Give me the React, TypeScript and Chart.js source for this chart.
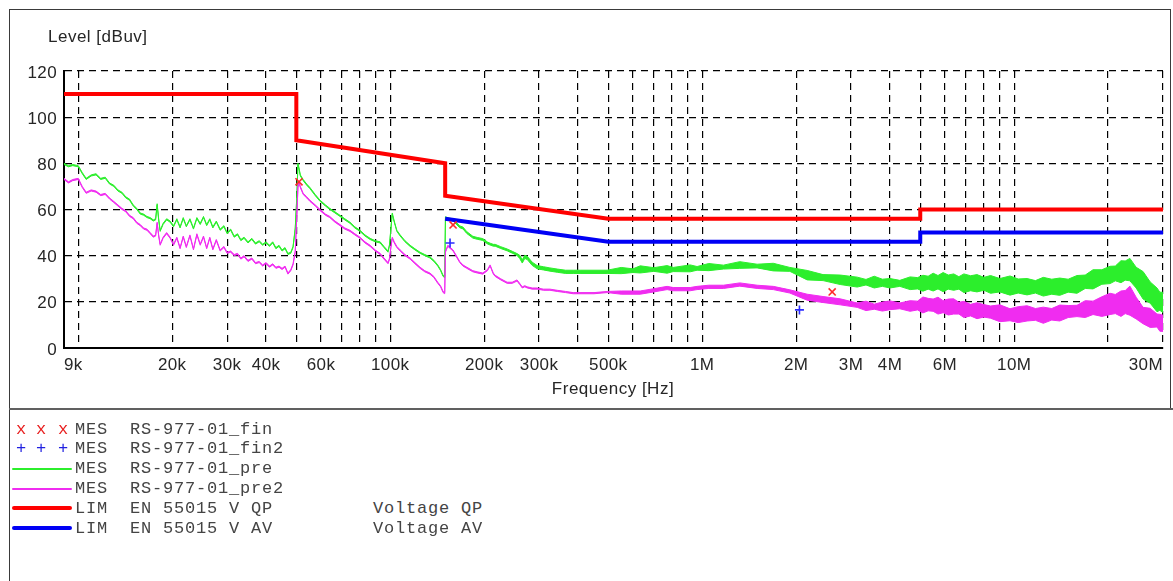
import React, { useEffect, useRef } from "react";
import { Chart, registerables } from "chart.js";

Chart.register(...registerables);

// ---------- DATA ----------
// shared frequency grid of the measured traces (kHz)
const freqKHz = [
  9, 9.3, 9.6, 10, 10.3, 10.6, 11, 11.4, 11.8, 12.2,
  12.6, 13, 13.4, 13.8, 14.2, 14.6, 15, 15.4, 15.8, 16.2,
  16.6, 17, 17.4, 17.7, 17.9, 18.1, 18.3, 18.7, 19.2, 19.7,
  20.2, 20.7, 21.2, 21.7, 22.2, 22.8, 23.4, 24, 24.6, 25.2,
  25.8, 26.4, 27, 27.7, 28.5, 29.3, 30, 30.8, 31.6, 32.4,
  33.2, 34, 35, 36, 37, 38, 39, 40, 41, 42,
  43, 44, 45, 46, 47, 48, 48.8, 49.6, 50.2, 50.6,
  51, 51.5, 52.6, 54, 55.3, 57.5, 59.6, 62, 64, 66.5,
  69, 71.5, 74.3, 77, 80, 83, 86.2, 89.5, 92.8, 95.5,
  98.4, 99.5, 100.5, 101.5, 103, 105, 107.6, 111.5, 115.8, 120,
  124.6, 129, 134, 138, 142, 145, 147.7, 149.5, 150.3, 153,
  159, 167, 171, 176, 184, 190, 198, 205, 209, 214,
  217, 226, 237, 246, 255, 260, 265, 270, 275, 285,
  296, 310, 325, 343, 365, 386, 406, 450, 496, 550,
  600, 633, 700, 772, 807, 915, 963, 1050, 1170, 1320,
  1500, 1690, 1910, 2170, 2440, 2770,
  3140, 3350, 3560, 3780, 4000, 4300, 4640, 4900, 5100, 5300,
  5500, 5700, 5920, 6150, 6400, 6650, 6900, 7250, 7600, 8000,
  8400, 9000, 9700, 10300, 11000, 11700, 12400, 13200, 14000, 14900,
  15900, 16900, 17900, 19100, 20300, 21100, 22000, 22700, 23500, 24600,
  25900, 27300, 28700, 29300, 30000,
];

// MES RS-977-01_pre (green) : upper / lower edge of the trace
const preHi = [
  80, 79, 79.5, 79, 76, 73.5, 75, 75.5, 73.5, 74,
  71.5, 70.5, 68.5, 67.5, 65.5, 64.5, 62, 60.5, 58.5, 58,
  57, 56.5, 55.5, 56, 62.5, 56, 51, 54, 56, 55,
  53, 56, 52.5, 56.5, 53, 56, 52, 56.5, 54, 57,
  53.5, 56, 52.5, 55, 51.5, 53, 50, 51.5, 48.5, 49.5,
  47, 48, 46, 47.5, 45.5, 46.5, 45, 46, 44.5, 46,
  43.5, 44.5, 42.5, 43.5, 41, 41.5, 44, 52, 66, 80,
  78, 75, 73, 71, 69.5, 66.5, 64, 62, 60.5, 59,
  57.5, 56, 54.5, 52.5, 51, 49, 47.5, 46.5, 46, 44,
  42, 45, 52, 58.5, 55, 51, 49, 46.5, 44.5, 43,
  41.5, 40.5, 39.5, 38, 36, 34, 31.5, 31, 56.9, 56.4,
  55.9, 52.9, 52.4, 50.4, 48.4, 47.9, 47.4, 45.9, 45.4, 44.9,
  44.9, 43.9, 42.9, 41.9, 40.9, 40.2, 38.2, 40.2, 39.7, 37.2,
  35.7, 35.2, 34.7, 34.2, 33.7, 33.7, 33.7, 33.7, 33.7, 34.9,
  34.3, 35.6, 34.8, 35.7, 34.9, 36.0, 35.3, 36.6, 35.9, 37.4,
  36.3, 36.7, 34.9, 33.6, 31.8, 31.6,
  30.7, 29.7, 31.1, 29.8, 30.1, 29.3, 30.8, 30.5, 31.5, 31.1,
  32.4, 31.4, 32.7, 31.6, 32.1, 30.9, 32.1, 31.3, 31.8, 30.6,
  31.4, 30.1, 31.2, 29.9, 30.1, 29.2, 30.6, 29.8, 30.3, 29.8,
  31.4, 31.6, 33.9, 33.9, 35.4, 35.5, 37.8, 37.7, 38.8, 35.0,
  33.1, 28.6, 26.0, 24.2, 24.1,
];
const preLo = [
  79.5, 78.5, 79, 78.5, 75.5, 73, 74.5, 75, 73, 73.5,
  71, 70, 68, 67, 65, 64, 61.5, 60, 58, 57.5,
  56.5, 56, 55, 55.5, 62, 55.5, 50.5, 53.5, 55.5, 54.5,
  52.5, 55.5, 52, 56, 52.5, 55.5, 51.5, 56, 53.5, 56.5,
  53, 55.5, 52, 54.5, 51, 52.5, 49.5, 51, 48, 49,
  46.5, 47.5, 45.5, 47, 45, 46, 44.5, 45.5, 44, 45.5,
  43, 44, 42, 43, 40.5, 41, 43.5, 51.5, 65.5, 79.5,
  77.5, 74.5, 72.5, 70.5, 69, 66, 63.5, 61.5, 60, 58.5,
  57, 55.5, 54, 52, 50.5, 48.5, 47, 46, 45.5, 43.5,
  41.5, 44.5, 51.5, 58, 54.5, 50.5, 48.5, 46, 44, 42.5,
  41, 40, 39, 37.5, 35.5, 33.5, 31, 30.5, 56.1, 55.6,
  55.1, 52.1, 51.6, 49.6, 47.6, 47.1, 46.6, 45.1, 44.6, 44.1,
  44.1, 43.1, 42.1, 41.1, 40.1, 38.8, 36.8, 38.8, 38.3, 35.8,
  34.3, 33.8, 33.3, 32.8, 32.3, 32.3, 32.3, 32.3, 32.3, 32.2,
  32.7, 32.5, 33.2, 32.4, 33.1, 33.0, 33.7, 33.5, 34.2, 34.5,
  34.7, 33.4, 33.2, 29.5, 29.2, 27.5,
  26.4, 27.3, 26.0, 26.7, 26.0, 26.7, 25.3, 25.6, 24.6, 25.5,
  24.7, 25.6, 24.4, 25.5, 25.0, 25.5, 24.0, 24.8, 24.3, 25.0,
  23.7, 24.3, 22.9, 23.8, 23.0, 23.8, 22.5, 23.3, 22.8, 24.2,
  23.7, 25.8, 25.6, 27.6, 27.9, 29.1, 28.3, 29.4, 29.1, 26.0,
  21.2, 19.4, 15.7, 16.3, 15.4,
];

// MES RS-977-01_pre2 (magenta) : upper / lower edge of the trace
const pre2Hi = [
  73.5, 72, 73, 73.5, 70, 67.5, 68.5, 68, 66.5, 67,
  65, 63.5, 62, 60.5, 59.5, 57.5, 56.5, 54.5, 53.5, 52,
  51.5, 50, 48.5, 49, 54.5, 49, 45, 48, 50, 48,
  45, 48, 43.5, 48.5, 44, 49, 43, 49.5, 45, 48.5,
  43.5, 48, 43, 47, 42.5, 44, 41.5, 42, 40.5, 41,
  39, 40, 38, 39, 37, 37.5, 36, 37, 35.5, 36.5,
  35, 35.5, 34.5, 35.5, 32.5, 34, 36.5, 42, 58, 70,
  72, 70, 67, 65.5, 64, 62, 60, 58, 57, 55,
  53.5, 52, 51, 49.5, 48, 46, 44.5, 42.5, 41, 39,
  37, 39, 44, 48, 46, 44, 42.5, 40.5, 39, 37,
  35, 33.5, 32.5, 31, 28.5, 27, 24.5, 24, 42, 44.5,
  42.5, 37.5, 36, 35, 33.5, 33, 32.5, 34, 36, 32.5,
  31.5, 30, 28.5, 28.5, 29.5, 28, 26.5, 27, 26.5, 26,
  26, 25.5, 25.5, 25, 24.5, 24, 24, 24, 24.5, 24.7,
  24.7, 24.7, 25.7, 26.7, 26.2, 26.2, 26.7, 27.2, 27.2, 28.2,
  27.2, 26.7, 25.2, 23.3, 22.3, 21.3,
  19.5, 20.3, 19.0, 19.9, 20.4, 19.5, 20.5, 20.3, 22.1, 21.5,
  21.2, 22.0, 20.5, 21.2, 21.3, 19.8, 20.2, 18.9, 19.6, 18.8,
  18.2, 18.7, 17.0, 17.9, 18.3, 17.1, 17.7, 17.1, 18.6, 18.4,
  18.5, 20.5, 20.3, 22.2, 23.7, 23.2, 24.7, 24.9, 26.8, 22.0,
  17.6, 17.2, 14.7, 14.6, 14.2,
];
const pre2Lo = [
  73, 71.5, 72.5, 73, 69.5, 67, 68, 67.5, 66, 66.5,
  64.5, 63, 61.5, 60, 59, 57, 56, 54, 53, 51.5,
  51, 49.5, 48, 48.5, 54, 48.5, 44.5, 47.5, 49.5, 47.5,
  44.5, 47.5, 43, 48, 43.5, 48.5, 42.5, 49, 44.5, 48,
  43, 47.5, 42.5, 46.5, 42, 43.5, 41, 41.5, 40, 40.5,
  38.5, 39.5, 37.5, 38.5, 36.5, 37, 35.5, 36.5, 35, 36,
  34.5, 35, 34, 35, 32, 33.5, 36, 41.5, 57.5, 69.5,
  71.5, 69.5, 66.5, 65, 63.5, 61.5, 59.5, 57.5, 56.5, 54.5,
  53, 51.5, 50.5, 49, 47.5, 45.5, 44, 42, 40.5, 38.5,
  36.5, 38.5, 43.5, 47.5, 45.5, 43.5, 42, 40, 38.5, 36.5,
  34.5, 33, 32, 30.5, 28, 26.5, 24, 23.5, 41.5, 44,
  42, 37, 35.5, 34.5, 33, 32.5, 32, 33.5, 35.5, 32,
  31, 29.5, 28, 28, 29, 27.5, 26, 26.5, 26, 25.5,
  25.5, 25, 25, 24.5, 24, 23.5, 23.5, 23.5, 24, 23.3,
  23.3, 23.3, 24.3, 25.3, 24.8, 24.8, 25.3, 25.8, 25.8, 26.8,
  25.8, 25.3, 23.8, 20.7, 19.7, 18.7,
  17.6, 16.2, 16.8, 16.0, 16.6, 17.0, 15.9, 16.5, 15.2, 16.1,
  15.9, 14.7, 15.3, 14.3, 14.7, 14.7, 13.2, 13.9, 12.7, 13.4,
  12.9, 11.4, 11.8, 11.0, 11.7, 12.0, 10.7, 12.1, 11.7, 13.2,
  13.6, 13.2, 14.5, 13.7, 14.5, 14.9, 13.7, 14.9, 14.2, 12.6,
  10.5, 8.9, 9.1, 7.3, 7.2,
];

// LIM EN 55015 V QP (red) and V AV (blue)
const qpKHz = [9, 50, 50, 150, 150, 500, 5000, 5000, 30000];
const qpLevel = [110, 110, 90, 80, 66, 56, 56, 60, 60];
const avKHz = [150, 500, 5000, 5000, 30000];
const avLevel = [56, 46, 46, 50, 50];

// final measurements
const finKHz = [51, 159, 2610];
const finLevel = [72, 53.3, 24.3];
const fin2KHz = [155.5, 2050];
const fin2Level = [45.5, 16.5];

// axes
const gridKHz = [
  10, 20, 30, 40, 50, 60, 70, 80, 90,
  100, 200, 300, 400, 500, 600, 700, 800, 900,
  1000, 2000, 3000, 4000, 5000, 6000, 7000, 8000, 9000,
  10000, 20000, 30000,
];
const xTickKHz = [9, 20, 30, 40, 60, 100, 200, 300, 500, 1000, 2000, 3000, 4000, 6000, 10000, 30000];
const xTickLabels = ["9k", "20k", "30k", "40k", "60k", "100k", "200k", "300k", "500k", "1M", "2M", "3M", "4M", "6M", "10M", "30M"];
const yTicks = [0, 20, 40, 60, 80, 100, 120];
const yTitle = "Level [dBuv]";
const xTitle = "Frequency [Hz]";

// legend
const legendKinds = ["MES", "MES", "MES", "MES", "LIM", "LIM"];
const legendNames = ["RS-977-01_fin", "RS-977-01_fin2", "RS-977-01_pre", "RS-977-01_pre2", "EN 55015 V QP", "EN 55015 V AV"];
const legendNotes = ["", "", "", "", "Voltage QP", "Voltage AV"];

// ---------- STYLE ----------
const RED = "#ff0000";
const BLUE = "#0000f5";
const GREEN = "#2cee2c";
const MAGENTA = "#f02cf0";
const SANS = '"Liberation Sans", Arial, sans-serif';
const MONO = '"Liberation Mono", "Courier New", monospace';

const pts = (xs: number[], ys: number[]) => xs.map((x, i) => ({ x, y: ys[i] }));

const tickTextPlugin = {
  id: "tickText",
  afterDraw(chart: any) {
    const ctx = chart.ctx as CanvasRenderingContext2D;
    const xs = chart.scales.x;
    const ys = chart.scales.y;
    ctx.save();
    ctx.font = `17px ${SANS}`;
    (ctx as any).letterSpacing = "0.4px";
    ctx.fillStyle = "#262626";
    ctx.textBaseline = "alphabetic";
    xTickKHz.forEach((v, i) => {
      const px = xs.getPixelForValue(v);
      ctx.textAlign = i === 0 ? "left" : i === xTickKHz.length - 1 ? "right" : "center";
      ctx.fillText(xTickLabels[i], px, xs.top + 22);
    });
    ctx.textAlign = "right";
    yTicks.forEach((v) => {
      ctx.fillText(String(v), ys.right - 7, ys.getPixelForValue(v) + 6.5);
    });
    ctx.restore();
  },
};

export default function App() {
  const ref = useRef<HTMLCanvasElement>(null);

  useEffect(() => {
    if (!ref.current) return;
    const gridOpts = { color: "#000", lineWidth: 1.2, drawTicks: false };
    const borderOpts = { display: true, color: "#000", width: 2, dash: [7, 5] };
    const chart = new Chart(ref.current, {
      type: "line",
      data: {
        datasets: [
          {
            label: "fin",
            data: pts(finKHz, finLevel),
            showLine: false,
            pointStyle: "crossRot",
            pointRadius: 5,
            pointBorderWidth: 1.6,
            borderColor: "#ff2a2a",
            backgroundColor: "#ff2a2a",
            order: 0,
          },
          {
            label: "fin2",
            data: pts(fin2KHz, fin2Level),
            showLine: false,
            pointStyle: "cross",
            pointRadius: 4.5,
            pointBorderWidth: 1.6,
            borderColor: "#2a2aff",
            backgroundColor: "#2a2aff",
            order: 0,
          },
          {
            label: "QP",
            data: pts(qpKHz, qpLevel),
            borderColor: RED,
            borderWidth: 4,
            pointRadius: 0,
            borderJoinStyle: "miter",
            fill: false,
            order: 1,
          },
          {
            label: "AV",
            data: pts(avKHz, avLevel),
            borderColor: BLUE,
            borderWidth: 4,
            pointRadius: 0,
            borderJoinStyle: "miter",
            fill: false,
            order: 1,
          },
          {
            label: "pre hi",
            data: pts(freqKHz, preHi),
            borderColor: GREEN,
            backgroundColor: GREEN,
            borderWidth: 1,
            pointRadius: 0,
            fill: "+1",
            order: 3,
          },
          {
            label: "pre lo",
            data: pts(freqKHz, preLo),
            borderColor: GREEN,
            borderWidth: 1,
            pointRadius: 0,
            fill: false,
            order: 3,
          },
          {
            label: "pre2 hi",
            data: pts(freqKHz, pre2Hi),
            borderColor: MAGENTA,
            backgroundColor: MAGENTA,
            borderWidth: 1,
            pointRadius: 0,
            fill: "+1",
            order: 2,
          },
          {
            label: "pre2 lo",
            data: pts(freqKHz, pre2Lo),
            borderColor: MAGENTA,
            borderWidth: 1,
            pointRadius: 0,
            fill: false,
            order: 2,
          },
        ] as any,
      },
      options: {
        animation: false,
        responsive: false,
        devicePixelRatio: 1,
        events: [],
        layout: { padding: { left: 0, right: 10, top: 71, bottom: 0 } },
        plugins: {
          legend: { display: false },
          title: { display: false },
          tooltip: { enabled: false },
        },
        scales: {
          x: {
            type: "logarithmic",
            min: 9,
            max: 30000,
            bounds: "data",
            afterBuildTicks: (s: any) => {
              s.ticks = gridKHz.map((v) => ({ value: v }));
            },
            afterFit: (s: any) => {
              s.height = 60;
            },
            ticks: { display: false },
            grid: gridOpts,
            border: borderOpts,
          },
          y: {
            type: "linear",
            min: 0,
            max: 120,
            afterBuildTicks: (s: any) => {
              s.ticks = yTicks.map((v) => ({ value: v }));
            },
            afterFit: (s: any) => {
              s.width = 64;
            },
            ticks: { display: false },
            grid: gridOpts,
            border: borderOpts,
          },
        } as any,
      },
      plugins: [tickTextPlugin],
    } as any);
    return () => chart.destroy();
  }, []);

  const rowTop = (i: number) => 419.5 + 19.8 * i;
  const sym = (i: number) => {
    if (i === 0 || i === 1) {
      const ch = i === 0 ? "x" : "+";
      const col = i === 0 ? "#e82020" : "#2020e0";
      return [16, 36, 58].map((l, k) => (
        <span key={k} style={{ position: "absolute", left: l, top: rowTop(i), font: `17px ${MONO}`, lineHeight: "20px", color: col }}>
          {ch}
        </span>
      ));
    }
    const color = [GREEN, MAGENTA, RED, BLUE][i - 2];
    const thick = i >= 4 ? 4 : 2;
    const top = i >= 4 ? 506 + (i - 4) * 20 : 468 + (i - 2) * 20;
    return (
      <div style={{ position: "absolute", left: 12, top, width: 60, height: thick, background: color, borderRadius: thick / 2 }} />
    );
  };

  return (
    <div style={{ position: "absolute", left: 0, top: 0, width: 1173, height: 581, background: "#fff", overflow: "hidden" }}>
      <canvas ref={ref} width={1173} height={408} style={{ position: "absolute", left: 0, top: 0, width: 1173, height: 408 }} />
      {/* frame */}
      <div style={{ position: "absolute", left: 9, top: 9, width: 1162, height: 1, background: "#3a3a3a" }} />
      <div style={{ position: "absolute", left: 9, top: 9, width: 1, height: 572, background: "#3a3a3a" }} />
      <div style={{ position: "absolute", left: 1170, top: 9, width: 1, height: 400, background: "#3a3a3a" }} />
      <div style={{ position: "absolute", left: 9, top: 408, width: 1164, height: 2, background: "#606060" }} />
      {/* axis titles */}
      <div style={{ position: "absolute", left: 48, top: 27.5, font: `17px ${SANS}`, lineHeight: "18px", letterSpacing: "0.5px", color: "#262626", whiteSpace: "nowrap" }}>
        {yTitle}
      </div>
      <div style={{ position: "absolute", left: 463, width: 300, textAlign: "center", top: 379.5, font: `17px ${SANS}`, lineHeight: "18px", letterSpacing: "0.5px", color: "#262626", whiteSpace: "nowrap" }}>
        {xTitle}
      </div>
      {/* legend */}
      {legendKinds.map((k, i) => (
        <React.Fragment key={i}>
          {sym(i)}
          <div style={{ position: "absolute", left: 75, top: rowTop(i), font: `17px ${MONO}`, lineHeight: "20px", letterSpacing: "0.8px", color: "#444", whiteSpace: "pre" }}>
            {k}
          </div>
          <div style={{ position: "absolute", left: 130, top: rowTop(i), font: `17px ${MONO}`, lineHeight: "20px", letterSpacing: "0.8px", color: "#444", whiteSpace: "pre" }}>
            {legendNames[i]}
          </div>
          {legendNotes[i] && (
            <div style={{ position: "absolute", left: 373, top: rowTop(i), font: `17px ${MONO}`, lineHeight: "20px", letterSpacing: "0.8px", color: "#444", whiteSpace: "pre" }}>
              {legendNotes[i]}
            </div>
          )}
        </React.Fragment>
      ))}
    </div>
  );
}
